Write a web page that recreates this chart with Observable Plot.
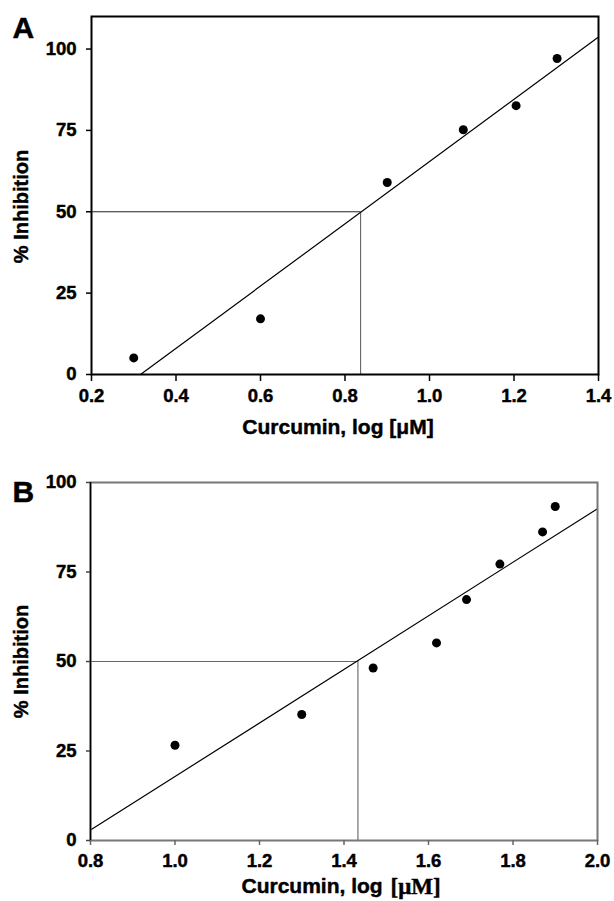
<!DOCTYPE html>
<html><head><meta charset="utf-8">
<script src="https://cdn.jsdelivr.net/npm/d3@7"></script>
<script src="https://cdn.jsdelivr.net/npm/@observablehq/plot@0.6"></script>
<style>
body{margin:0;background:#fff}
#chart svg{display:block}
</style>
</head><body><div id="chart"></div>
<script>
// Panel A data
const xA = [0.3, 0.6, 0.9, 1.08, 1.205, 1.302];
const yA = [5.1, 17.1, 59.0, 75.2, 82.6, 97.1];
const fitAx = [0.316, 1.4];
const fitAy = [0, 103.7];
const ic50A = 0.837;
const xTicksA = [0.2, 0.4, 0.6, 0.8, 1.0, 1.2, 1.4];
// Panel B data
const xB = [1.0, 1.30, 1.469, 1.619, 1.690, 1.769, 1.870, 1.900];
const yB = [26.6, 35.2, 48.2, 55.2, 67.3, 77.2, 86.2, 93.3];
const fitBx = [0.8, 2.0];
const fitBy = [2.9, 92.7];
const ic50B = 1.433;
const xTicksB = [0.8, 1.0, 1.2, 1.4, 1.6, 1.8, 2.0];
const yTicks = [0, 25, 50, 75, 100];
const yLabel = "% Inhibition";
const xLabel = "Curcumin, log [μM]";
const xLabelB1 = "Curcumin, log ";
const xLabelB2 = "[μM]";

const FONT = "'Liberation Sans', Arial, Helvetica, sans-serif";
const fmt = d3.format(".1f");
const blank = () => "";
const T = {fontWeight: "bold", fill: "black", stroke: "black", strokeWidth: 0.45};

// Panel A
const ptsA = xA.map((x, i) => ({x, y: yA[i]}));
const fitA = fitAx.map((x, i) => ({x, y: fitAy[i]}));
const plotA = Plot.plot({
  width: 614, height: 450,
  marginLeft: 91, marginRight: 16, marginTop: 16, marginBottom: 76,
  style: {fontFamily: FONT, fontSize: "18px", fontWeight: "bold", color: "black", background: "white"},
  x: {domain: [0.2, 1.4]},
  y: {domain: [0, 110]},
  marks: [
    Plot.ruleY([50], {x1: 0.2, x2: ic50A, stroke: "#222", strokeWidth: 1}),
    Plot.ruleX([ic50A], {y1: 0, y2: 50, stroke: "#555", strokeWidth: 1}),
    Plot.line(fitA, {x: "x", y: "y", stroke: "black", strokeWidth: 1.2}),
    Plot.dot(ptsA, {x: "x", y: "y", r: 4.5, fill: "black", stroke: null}),
    Plot.frame({stroke: "black", strokeWidth: 2}),
    Plot.axisX({ticks: xTicksA, tickFormat: blank, tickSize: 7, label: null, strokeWidth: 1.5}),
    Plot.axisY({ticks: yTicks, tickFormat: blank, tickSize: 5, label: null, strokeWidth: 1.5}),
    Plot.text(xTicksA, {...T, x: d => d, text: fmt, frameAnchor: "bottom", textAnchor: "middle", lineAnchor: "top", dy: 14, fontSize: 18.5}),
    Plot.text(yTicks, {...T, y: d => d, text: d => String(d), frameAnchor: "left", textAnchor: "end", lineAnchor: "middle", dx: -15, fontSize: 18.5}),
    Plot.text(["A"], {...T, text: d => d, frameAnchor: "top-left", textAnchor: "start", lineAnchor: "top", dx: -79, dy: 0, fontSize: 30}),
    Plot.text([yLabel], {...T, text: d => d, frameAnchor: "left", textAnchor: "middle", lineAnchor: "middle", rotate: -90, dx: -70, dy: 11, fontSize: 20}),
    Plot.text([xLabel], {...T, text: d => d, frameAnchor: "bottom", textAnchor: "middle", lineAnchor: "top", dx: -7, dy: 45, fontSize: 21})
  ]
});

// Panel B
const ptsB = xB.map((x, i) => ({x, y: yB[i]}));
const fitB = fitBx.map((x, i) => ({x, y: fitBy[i]}));
const plotB = Plot.plot({
  width: 614, height: 451,
  marginLeft: 90, marginRight: 17, marginTop: 32, marginBottom: 61,
  style: {fontFamily: FONT, fontSize: "18px", fontWeight: "bold", color: "black", background: "white"},
  x: {domain: [0.8, 2.0]},
  y: {domain: [0, 100]},
  marks: [
    Plot.ruleY([50], {x1: 0.8, x2: ic50B, stroke: "#666", strokeWidth: 1}),
    Plot.ruleX([ic50B], {y1: 0, y2: 50, stroke: "#555", strokeWidth: 1}),
    Plot.line(fitB, {x: "x", y: "y", stroke: "black", strokeWidth: 1.2}),
    Plot.dot(ptsB, {x: "x", y: "y", r: 4.5, fill: "black", stroke: null}),
    Plot.frame({stroke: "#777", strokeWidth: 2}),
    Plot.ruleX([0.8], {stroke: "black", strokeWidth: 1.5}),
    Plot.axisX({ticks: xTicksB, tickFormat: blank, tickSize: 5, label: null, stroke: "#666", strokeWidth: 1.5}),
    Plot.axisY({ticks: yTicks, tickFormat: blank, tickSize: 4, label: null, stroke: "#444", strokeWidth: 1.5}),
    Plot.text(xTicksB, {...T, x: d => d, text: fmt, frameAnchor: "bottom", textAnchor: "middle", lineAnchor: "top", dy: 13, fontSize: 18.5}),
    Plot.text(yTicks, {...T, y: d => d, text: d => String(d), frameAnchor: "left", textAnchor: "end", lineAnchor: "middle", dx: -14, fontSize: 18.5}),
    Plot.text(["B"], {...T, text: d => d, frameAnchor: "top-left", textAnchor: "start", lineAnchor: "top", dx: -78, dy: -2, fontSize: 30}),
    Plot.text([yLabel], {...T, text: d => d, frameAnchor: "left", textAnchor: "middle", lineAnchor: "middle", rotate: -90, dx: -69, dy: 0, fontSize: 20}),
    Plot.text([xLabelB1], {...T, text: d => d, frameAnchor: "bottom-left", textAnchor: "start", lineAnchor: "top", dx: 151, dy: 38, fontSize: 21}),
    Plot.text([xLabelB2], {...T, text: d => d, frameAnchor: "bottom-left", textAnchor: "start", lineAnchor: "top", dx: 300, dy: 37, fontSize: 23, fontFamily: "'Liberation Serif', 'Times New Roman', serif"})
  ]
});

document.getElementById("chart").append(plotA, plotB);
</script>
</body></html>
